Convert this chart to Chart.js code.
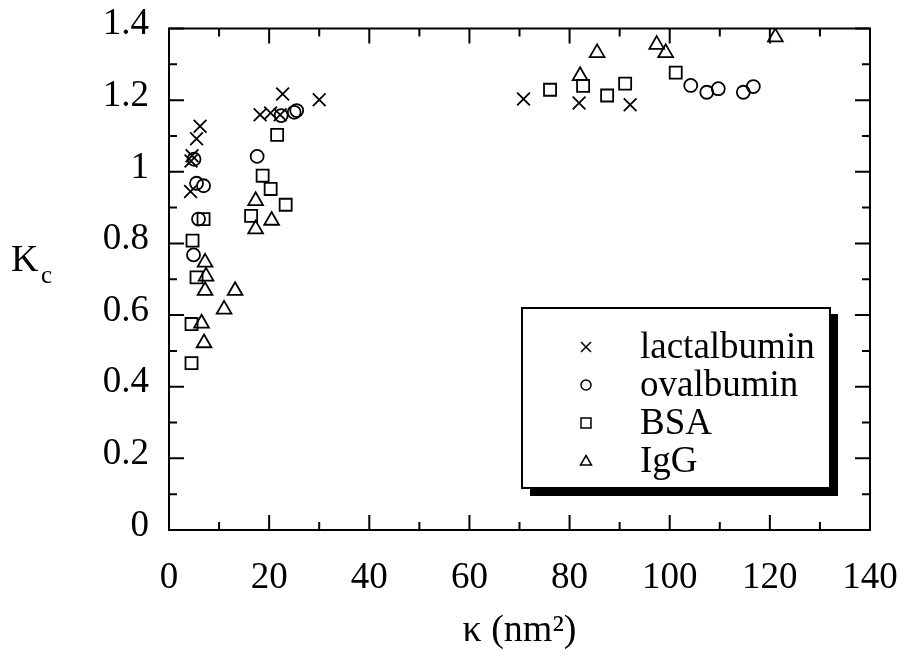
<!DOCTYPE html>
<html>
<head>
<meta charset="utf-8">
<script src="https://cdn.jsdelivr.net/npm/chart.js@4/dist/chart.umd.min.js"></script>
<style>
  html, body { margin: 0; padding: 0; background: #fff; }
  #wrap { width: 909px; height: 657px; }
</style>
</head>
<body>
<div id="wrap"><canvas id="chart-area"></canvas></div>
<script>
// values
const seriesNames = ['lactalbumin', 'ovalbumin', 'BSA', 'IgG'];

const lactX = [4.3, 4.4, 4.6, 5.5, 6.2, 18.2, 20.3, 22.2, 22.7, 30.0, 70.8, 81.9, 92.1];
const lactY = [0.945, 1.030, 1.045, 1.092, 1.127, 1.159, 1.164, 1.159, 1.217, 1.201, 1.203, 1.192, 1.187];

const ovalX = [5.0, 5.5, 6.9, 5.9, 4.9, 17.6, 22.4, 25.0, 25.5, 104.2, 107.4, 109.7, 114.7, 116.7];
const ovalY = [1.035, 0.968, 0.961, 0.868, 0.768, 1.043, 1.157, 1.166, 1.171, 1.241, 1.222, 1.232, 1.222, 1.238];

const bsaX = [4.7, 6.9, 5.5, 4.5, 4.5, 16.4, 18.7, 20.3, 21.6, 23.3, 76.1, 82.7, 87.5, 91.1, 101.2];
const bsaY = [0.808, 0.868, 0.705, 0.575, 0.466, 0.877, 0.989, 0.952, 1.103, 0.908, 1.229, 1.240, 1.213, 1.246, 1.277];

const iggX = [7.2, 7.4, 7.2, 6.5, 7.0, 11.0, 13.2, 17.3, 17.3, 20.5, 82.1, 85.5, 97.4, 99.2, 121.1];
const iggY = [0.747, 0.708, 0.668, 0.577, 0.522, 0.616, 0.668, 0.919, 0.840, 0.864, 1.268, 1.332, 1.355, 1.332, 1.376];

const xTicks = [0, 20, 40, 60, 80, 100, 120, 140];
const yTicks = [0, 0.2, 0.4, 0.6, 0.8, 1, 1.2, 1.4];

const serif = '"Liberation Serif", "Times New Roman", serif';

function pts(xs, ys) {
    return xs.map((x, i) => ({x: x, y: ys[i]}));
}

function makeSet(label, xs, ys, style, r) {
    return {
        label: label,
        data: pts(xs, ys),
        pointStyle: style,
        pointRadius: r,
        pointHoverRadius: r,
        pointBorderWidth: 1.8,
        borderColor: '#000',
        backgroundColor: 'rgba(0,0,0,0)',
        showLine: false
    };
}

// small marker for the legend box
function marker(ctx, style, x, y, s) {
    ctx.beginPath();
    if (style === 'crossRot') {
        ctx.moveTo(x - s, y - s); ctx.lineTo(x + s, y + s);
        ctx.moveTo(x + s, y - s); ctx.lineTo(x - s, y + s);
    } else if (style === 'circle') {
        ctx.arc(x, y, s, 0, Math.PI * 2);
    } else if (style === 'rect') {
        ctx.rect(x - s, y - s, 2 * s, 2 * s);
    } else {
        ctx.moveTo(x, y - s * 1.1);
        ctx.lineTo(x + s * 1.1, y + s * 0.8);
        ctx.lineTo(x - s * 1.1, y + s * 0.8);
        ctx.closePath();
    }
    ctx.stroke();
}

const framePlugin = {
    id: 'framePlugin',
    afterDraw(chart) {
        const ctx = chart.ctx;
        const a = chart.chartArea;
        const xs = chart.scales.x, ys = chart.scales.y;
        ctx.save();
        ctx.strokeStyle = '#000';
        ctx.lineWidth = 2;
        ctx.strokeRect(a.left, a.top, a.right - a.left, a.bottom - a.top);

        // inward ticks on all four sides
        ctx.lineWidth = 2;
        ctx.beginPath();
        for (let v = 0; v <= 140; v += 10) {
            const px = xs.getPixelForValue(v);
            const len = (v % 20 === 0) ? 15 : 8;
            ctx.moveTo(px, a.bottom); ctx.lineTo(px, a.bottom - len);
            ctx.moveTo(px, a.top); ctx.lineTo(px, a.top + len);
        }
        for (let k = 0; k <= 14; k++) {
            const py = ys.getPixelForValue(k / 10);
            const len = (k % 2 === 0) ? 15 : 8;
            ctx.moveTo(a.left, py); ctx.lineTo(a.left + len, py);
            ctx.moveTo(a.right, py); ctx.lineTo(a.right - len, py);
        }
        ctx.stroke();

        // y title K with subscript c
        ctx.fillStyle = '#000';
        ctx.textBaseline = 'alphabetic';
        ctx.textAlign = 'left';
        ctx.font = '38px ' + serif;
        ctx.fillText('K', 11, 271);
        ctx.font = '25px ' + serif;
        ctx.fillText('c', 41, 283);

        // legend box with drop shadow
        const bx = 522, by = 308, bw = 308, bh = 180;
        ctx.fillStyle = '#000';
        ctx.fillRect(bx + 8, by + 6, bw, bh + 2);
        ctx.fillStyle = '#fff';
        ctx.fillRect(bx, by, bw, bh);
        ctx.lineWidth = 2;
        ctx.strokeRect(bx, by, bw, bh);

        ctx.font = '37px ' + serif;
        ctx.fillStyle = '#000';
        ctx.textBaseline = 'middle';
        ctx.lineWidth = 1.5;
        chart.data.datasets.forEach((ds, i) => {
            const yy = 347 + i * 38;
            marker(ctx, ds.pointStyle, 586, yy, 5);
            ctx.fillText(ds.label, 640, yy + 1);
        });
        ctx.restore();
    }
};

let ctx2 = document.getElementById('chart-area').getContext('2d');
window.myScatter = new Chart(ctx2, {
    type: 'scatter',
    data: {
        datasets: [
            makeSet(seriesNames[0], lactX, lactY, 'crossRot', 9),
            makeSet(seriesNames[1], ovalX, ovalY, 'circle', 6.5),
            makeSet(seriesNames[2], bsaX, bsaY, 'rect', 8.5),
            makeSet(seriesNames[3], iggX, iggY, 'triangle', 8.5)
        ]
    },
    options: {
        responsive: true,
        maintainAspectRatio: false,
        animation: false,
        layout: {autoPadding: false, padding: {top: 28.5, right: 39, left: 0, bottom: 0}},
        plugins: {
            legend: {display: false},
            tooltip: {enabled: false}
        },
        scales: {
            x: {
                type: 'linear',
                min: 0, max: 140,
                afterFit: function(s) { s.height = 127; s.paddingLeft = 0; s.paddingRight = 0; },
                afterBuildTicks: function(s) { s.ticks = xTicks.map(v => ({value: v})); },
                grid: {display: false},
                border: {display: false},
                ticks: {
                    color: '#000',
                    font: {family: serif, size: 37},
                    padding: 18,
                    maxRotation: 0,
                    callback: v => String(v)
                },
                title: {
                    display: true,
                    text: 'κ (nm²)',
                    color: '#000',
                    font: {family: serif, size: 38},
                    padding: {top: 0, bottom: 3}
                }
            },
            y: {
                type: 'linear',
                min: 0, max: 1.4,
                afterFit: function(s) { s.width = 169; s.paddingTop = 0; s.paddingBottom = 0; },
                afterBuildTicks: function(s) { s.ticks = yTicks.map(v => ({value: v})); },
                grid: {display: false},
                border: {display: false},
                ticks: {
                    color: '#000',
                    font: {family: serif, size: 37},
                    padding: 12,
                    labelOffset: -4,
                    callback: v => String(Math.round(v * 10) / 10)
                }
            }
        }
    },
    plugins: [framePlugin]
});
</script>
</body>
</html>
